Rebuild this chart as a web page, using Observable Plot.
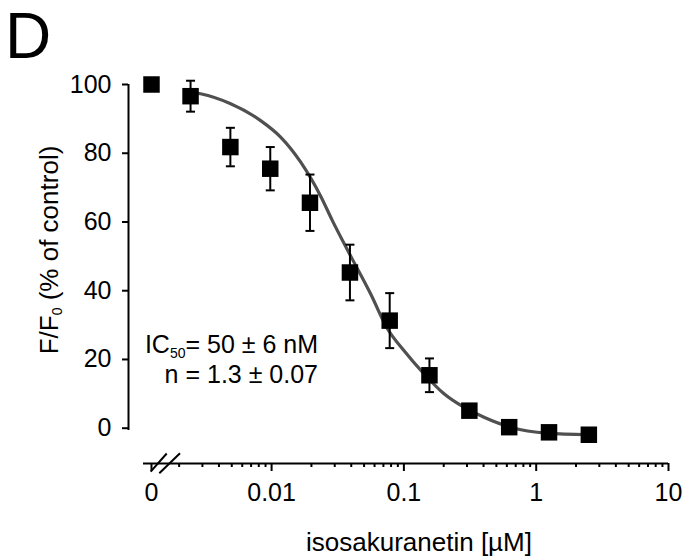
<!DOCTYPE html>
<html>
<head>
<meta charset="utf-8">
<script src="https://cdn.jsdelivr.net/npm/d3@7"></script>
<script src="https://cdn.jsdelivr.net/npm/@observablehq/plot@0.6"></script>
<style>
  html, body { margin: 0; padding: 0; background: #fff; }
  #chart { width: 683px; height: 557px; }
  svg { font-family: "Liberation Sans", Arial, sans-serif; }
</style>
</head>
<body>
<div id="chart"></div>
<script>
// ---- data ----
const concentrations = [0, 0.00244, 0.00488, 0.00977, 0.0195, 0.0391, 0.0781, 0.156, 0.3125, 0.625, 1.25, 2.5]; // µM
const responses      = [100, 96.6, 81.8, 75.5, 65.6, 45.3, 31.3, 15.4, 5.1, 0.3, -1.2, -1.9];      // F/F0 %
const errors         = [0, 4.5, 5.6, 6.3, 8.2, 8.1, 8.0, 4.9, 1.2, 0.8, 0.8, 0.8];

const fitConc  = [0.00244, 0.0029, 0.0049, 0.00826, 0.0117, 0.0166, 0.0235, 0.0288, 0.0401, 0.0560, 0.0749, 0.100, 0.142, 0.201, 0.284, 0.403, 0.641, 1.21, 2.5];
const fitValue = [97.8, 97.3, 94.4, 89.5, 84.7, 77.4, 67.5, 60.4, 49.7, 39.1, 29.0, 22.6, 15.8, 10.0, 6.1, 3.2, 0.3, -1.45, -1.9];

const yTicks = [0, 20, 40, 60, 80, 100];
const xMajorTicks = [0, 0.01, 0.1, 1, 10];
const xMajorLabels = ["0", "0.01", "0.1", "1", "10"];
const xMinorTicks = [2,3,4,5,6,7,8,9].flatMap(m => [0.001, 0.01, 0.1, 1].map(d => +(m * d).toPrecision(3)));

// ---- layout ----
const W = 683, H = 557;
const xMin = Math.pow(10, -3.0816);   // left edge of frame (y-axis position)
const zeroPos = Math.pow(10, -2.9078); // where "0" (control) is drawn on the log axis
const axisStart = Math.pow(10, -2.9682);
const yMin = -10.27;
const FONT = '"Liberation Sans", Arial, sans-serif';
const toX = c => (c === 0 ? zeroPos : c);

const points = concentrations.map((c, i) => ({x: toX(c), y: responses[i], e: errors[i]}));
const fit = fitConc.map((c, i) => ({x: c, y: fitValue[i]}));
const bars = points.filter(d => d.e > 0);
const xTickPositions = xMajorTicks.map(toX);
const xLabelOf = v => {
  const i = xTickPositions.findIndex(t => Math.abs(Math.log10(t) - Math.log10(v)) < 1e-6);
  return i >= 0 ? xMajorLabels[i] : "";
};

const capSymbol = {
  draw(ctx, size) {
    const w = Math.sqrt(size / Math.PI);
    ctx.moveTo(-w, 0); ctx.lineTo(w, 0);
  }
};

const chart = Plot.plot({
  width: W,
  height: H,
  marginLeft: 128,
  marginRight: 15,
  marginTop: 84,
  marginBottom: 94,
  style: {fontFamily: FONT, color: "#000", background: "#fff", overflow: "visible"},
  x: {type: "log", domain: [xMin, 10], axis: null},
  y: {domain: [yMin, 100], axis: null},
  marks: [
    // y axis
    Plot.ruleX([xMin], {y1: -0.7, y2: 100, stroke: "#000", strokeWidth: 2}),
    Plot.axisY({ticks: yTicks, tickSize: 6, tickPadding: 11, fontSize: 25, label: null, strokeWidth: 2}),
    // x axis
    Plot.ruleY([yMin], {x1: axisStart, x2: 10, stroke: "#000", strokeWidth: 2}),
    Plot.axisX({ticks: xTickPositions, tickFormat: xLabelOf, tickSize: 8, tickPadding: 12, fontSize: 25, label: null, strokeWidth: 2}),
    Plot.axisX({ticks: xMinorTicks, tickFormat: () => "", tickSize: 4, label: null, strokeWidth: 2}),
    // fitted curve
    Plot.line(fit, {x: "x", y: "y", stroke: "#505050", strokeWidth: 3.2, curve: "monotone-x"}),
    // error bars
    Plot.ruleX(bars, {x: "x", y1: d => d.y - d.e, y2: d => d.y + d.e, stroke: "#000", strokeWidth: 2}),
    Plot.dot(bars, {x: "x", y: d => d.y + d.e, symbol: capSymbol, r: 4.5, stroke: "#000", strokeWidth: 2, fill: "none"}),
    Plot.dot(bars, {x: "x", y: d => d.y - d.e, symbol: capSymbol, r: 4.5, stroke: "#000", strokeWidth: 2, fill: "none"}),
    // data points
    Plot.dot(points, {x: "x", y: "y", symbol: "square", r: 9.3, fill: "#000", stroke: "none"})
  ]
});

document.getElementById("chart").appendChild(chart);

// ---- decorations (text with subscripts, axis break) ----
const svg = d3.select(chart);
const sy = chart.scale("y");

// axis break marks "//"
const yAx = sy.apply(yMin);
const brk = svg.append("g").attr("stroke", "#000").attr("stroke-width", 2).attr("fill", "none");
brk.append("line").attr("x1", 150.7).attr("y1", yAx + 8.7).attr("x2", 166.7).attr("y2", yAx - 9.5);
brk.append("line").attr("x1", 159.3).attr("y1", yAx + 10.3).attr("x2", 180).attr("y2", yAx - 9.7);

// panel letter
svg.append("text").attr("x", 5).attr("y", 58).attr("text-anchor", "start")
  .attr("font-family", FONT).attr("font-size", 64).attr("fill", "#000").text("D");

// y label
const yl = svg.append("text")
  .attr("transform", "translate(58,250) rotate(-90)")
  .attr("text-anchor", "middle")
  .attr("font-family", FONT).attr("font-size", 26).attr("fill", "#000");
yl.append("tspan").text("F/F");
yl.append("tspan").attr("font-size", 14).attr("dy", 4).text("0");
yl.append("tspan").attr("dy", -4).text(" (% of control)");

// x label
svg.append("text").attr("x", 419).attr("y", 551)
  .attr("text-anchor", "middle")
  .attr("font-family", FONT).attr("font-size", 26).attr("fill", "#000")
  .text("isosakuranetin [µM]");

// annotation
const a1 = svg.append("text").attr("x", 318).attr("y", 353).attr("text-anchor", "end")
  .attr("font-family", FONT).attr("font-size", 25).attr("fill", "#000");
a1.append("tspan").text("IC");
a1.append("tspan").attr("font-size", 14).attr("dy", 5).text("50");
a1.append("tspan").attr("dy", -5).text("= 50 ± 6 nM");
svg.append("text").attr("x", 318).attr("y", 383).attr("text-anchor", "end")
  .attr("font-family", FONT).attr("font-size", 25).attr("fill", "#000")
  .text("n = 1.3 ± 0.07");
</script>
</body>
</html>
